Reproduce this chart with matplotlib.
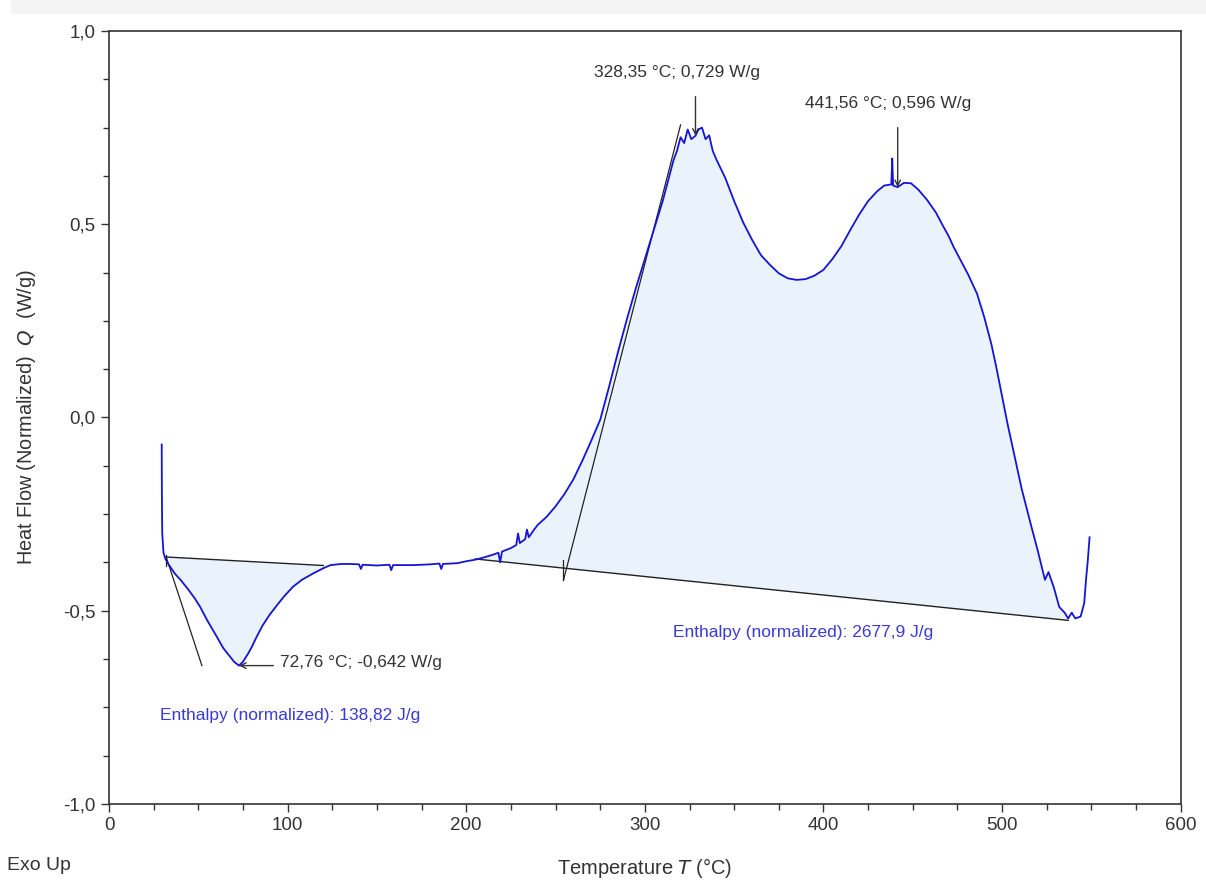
import matplotlib
matplotlib.use('Agg')
import matplotlib.pyplot as plt
from matplotlib.ticker import MultipleLocator, FuncFormatter
import numpy as np

plt.rcParams['font.family'] = ['Liberation Sans', 'DejaVu Sans']

# DSC heat flow curve (temperature in C, normalized heat flow in W/g)
temp = [29.5, 29.6, 29.8, 30.5, 31.5, 33, 34.2, 37, 40, 44, 48, 51, 55, 60.3,
        64, 67.8, 70, 72.76, 75, 78, 80, 82.7, 86, 90, 94, 98, 103, 108, 114.5,
        120, 124, 130, 135, 140, 141, 142, 150, 157, 158, 159, 170, 180, 185,
        186, 187, 195, 200, 205, 210, 215, 218, 219, 220, 225, 228, 229, 230,
        233, 234, 235, 238, 240, 245, 250, 255, 260, 265, 270, 275, 280, 285,
        290, 295, 300, 305, 310, 314, 316, 318, 320, 322, 324, 326, 328.35, 330,
        332, 334, 336, 338, 340, 345, 350, 355, 360, 365, 370, 375, 380, 385,
        390, 395, 400, 405, 410, 415, 420, 425, 430, 434, 438, 438.5, 439,
        441.56, 445, 449, 453, 458, 463, 467, 470, 473, 477, 481, 486, 490, 494,
        497, 500, 503, 507, 511, 516, 520, 524, 526, 529, 532, 535, 537, 539,
        541, 544, 546, 547, 548, 549]
heat_flow = [-0.07, -0.20, -0.30, -0.35, -0.365, -0.378, -0.386, -0.405, -0.42,
             -0.443, -0.468, -0.49, -0.525, -0.567, -0.597, -0.619, -0.632, -0.642,
             -0.632, -0.61, -0.593, -0.567, -0.538, -0.51, -0.486, -0.463, -0.438,
             -0.42, -0.403, -0.39, -0.382, -0.379, -0.379, -0.380, -0.392, -0.381,
             -0.383, -0.381, -0.395, -0.382, -0.382, -0.380, -0.378, -0.392, -0.379,
             -0.377, -0.372, -0.368, -0.362, -0.355, -0.350, -0.375, -0.347, -0.338,
             -0.33, -0.30, -0.325, -0.315, -0.29, -0.31, -0.29, -0.278, -0.257,
             -0.23, -0.198, -0.16, -0.112, -0.06, -0.006, 0.08, 0.17, 0.255, 0.335,
             0.41, 0.485, 0.56, 0.63, 0.665, 0.69, 0.725, 0.71, 0.745, 0.72, 0.729,
             0.745, 0.75, 0.72, 0.73, 0.69, 0.668, 0.62, 0.56, 0.505, 0.46, 0.42,
             0.395, 0.373, 0.36, 0.356, 0.358, 0.367, 0.382, 0.41, 0.443, 0.485,
             0.525, 0.56, 0.585, 0.60, 0.603, 0.67, 0.60, 0.596, 0.607, 0.606, 0.59,
             0.563, 0.53, 0.495, 0.47, 0.44, 0.405, 0.37, 0.32, 0.26, 0.19, 0.125,
             0.055, -0.015, -0.10, -0.185, -0.275, -0.345, -0.42, -0.40, -0.44, -0.49,
             -0.505, -0.52, -0.505, -0.52, -0.515, -0.48, -0.42, -0.37, -0.31]

# integration baselines (start, end) for each peak
base1_t = [32, 120]
base1_q = [-0.361, -0.383]
base2_t = [205, 537]
base2_q = [-0.366, -0.525]

# onset tangents
tan1_t = [32, 52]
tan1_q = [-0.361, -0.642]
tan2_t = [254.5, 320]
tan2_q = [-0.42, 0.757]

peaks = [(328.35, 0.729), (441.56, 0.596), (72.76, -0.642)]
enthalpy = [138.82, 2677.9]

temp = np.array(temp)
heat_flow = np.array(heat_flow)

fig = plt.figure(figsize=(12.06, 8.80), dpi=100)
fig.patches.append(plt.Rectangle((0.009, 0.985), 0.991, 0.015, transform=fig.transFigure,
                                 color='#f4f4f4', zorder=0))
ax = fig.add_axes([0.0904, 0.0864, 0.8886, 0.8784])

fill_c = '#eaf3fc'
for bt, bq in [(base1_t, base1_q), (base2_t, base2_q)]:
    m = (temp >= bt[0]) & (temp <= bt[1])
    base = np.interp(temp[m], bt, bq)
    ax.fill_between(temp[m], heat_flow[m], base, color=fill_c, lw=0, zorder=1)
    ax.plot(bt, bq, color='#222222', lw=1.0, zorder=2)

ax.plot(tan1_t, tan1_q, color='#222222', lw=0.9, zorder=2)
ax.plot(tan2_t, tan2_q, color='#222222', lw=0.9, zorder=2)
ax.plot([32, 32], [-0.355, -0.385], color='#222222', lw=0.9)
ax.plot([254, 254], [-0.37, -0.42], color='#222222', lw=0.9)

ax.plot(temp, heat_flow, color='#1414d2', lw=1.3, zorder=3)


def comma(s):
    return s.replace('.', ',')


def peak_label(t, q):
    return comma(f"{t:.2f}") + " °C; " + comma(f"{q:.3f}") + " W/g"


arrow = dict(arrowstyle='->', color='#333333', lw=1.0, shrinkA=0, shrinkB=0)
t, q = peaks[0]
ax.annotate('', xy=(t, q), xytext=(t, 0.83), arrowprops=arrow)
ax.text(318, 0.893, peak_label(t, q), ha='center', va='center', fontsize=12.5,
        color='#333333')
t, q = peaks[1]
ax.annotate('', xy=(t, q), xytext=(t, 0.75), arrowprops=arrow)
ax.text(436, 0.812, peak_label(t, q), ha='center', va='center', fontsize=12.5,
        color='#333333')
t, q = peaks[2]
ax.annotate('', xy=(t, q), xytext=(92, q), arrowprops=arrow)
ax.text(95.5, -0.634, peak_label(t, q), ha='left', va='center', fontsize=12.5,
        color='#333333')

ax.text(28.5, -0.77, "Enthalpy (normalized): " + comma(f"{enthalpy[0]:.2f}") + " J/g",
        ha='left', va='center', fontsize=12.5, color='#3a3ad6')
ax.text(316, -0.557, "Enthalpy (normalized): " + comma(f"{enthalpy[1]:.1f}") + " J/g",
        ha='left', va='center', fontsize=12.5, color='#3a3ad6')

ax.set_xlim(0, 600)
ax.set_ylim(-1, 1)
ax.xaxis.set_major_locator(MultipleLocator(100))
ax.xaxis.set_minor_locator(MultipleLocator(25))
ax.yaxis.set_major_locator(MultipleLocator(0.5))
ax.yaxis.set_minor_locator(MultipleLocator(0.125))
ax.yaxis.set_major_formatter(FuncFormatter(lambda v, p: comma(f"{v:.1f}")))
ax.tick_params(which='major', length=6, width=1, color='#333333', labelsize=13.5,
               labelcolor='#333333')
ax.tick_params(which='minor', length=4, width=1, color='#333333')
for s in ax.spines.values():
    s.set_color('#333333')
    s.set_linewidth(1.2)

ax.set_xlabel('Temperature $\\it{T}$ (°C)', fontsize=14.5, color='#333333', labelpad=16)
ax.set_ylabel('Heat Flow (Normalized)  $\\it{Q}$  (W/g)', fontsize=14.3, color='#333333',
              labelpad=18)
fig.text(0.006, 0.011, 'Exo Up', fontsize=14, color='#333333')

fig.savefig('out.png', dpi=100)
